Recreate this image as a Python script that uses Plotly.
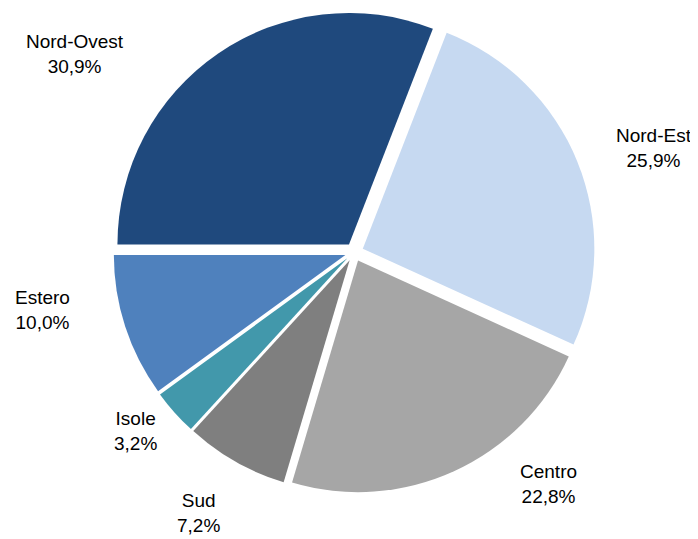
import plotly.graph_objects as go

regioni = ["Nord-Ovest", "Nord-Est", "Centro", "Sud", "Isole", "Estero"]
quote = [30.9, 25.9, 22.8, 7.2, 3.2, 10.0]
colori = ["#1f497d", "#c6d9f1", "#a6a6a6", "#7f7f7f", "#4298ab", "#4f81bd"]

# label positions (paper coords), Excel-style placement around the pie
label_xy = [(0.096, 0.915), (0.926, 0.740), (0.774, 0.117),
            (0.273, 0.063), (0.182, 0.215), (0.049, 0.440)]

fig = go.Figure(go.Pie(
    labels=regioni,
    values=quote,
    sort=False,
    direction="clockwise",
    rotation=270,
    pull=0.04,
    marker=dict(colors=colori, line=dict(color="white", width=0)),
    textinfo="none",
    hoverinfo="label+percent",
    domain=dict(x=[0.151, 0.841], y=[0.100, 0.994]),
))

for reg, q, (x, y) in zip(regioni, quote, label_xy):
    fig.add_annotation(
        x=x, y=y, xref="paper", yref="paper",
        text=f"{reg}<br>{q:.1f}%".replace(".", ","),
        showarrow=False, xanchor="center", yanchor="middle",
        font=dict(size=19, color="black"),
    )

fig.update_layout(
    width=698, height=539,
    margin=dict(l=0, r=0, t=0, b=0),
    showlegend=False,
    paper_bgcolor="white",
    font=dict(family="Liberation Sans, Arial, sans-serif"),
)

fig.write_html("out.html")
